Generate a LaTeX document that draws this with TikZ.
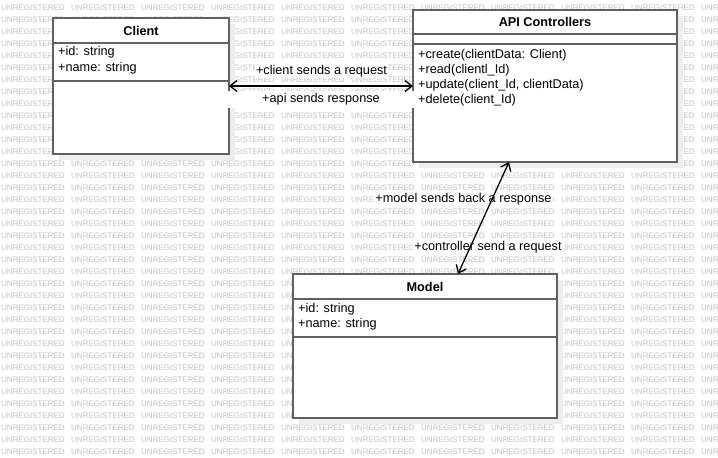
\documentclass[tikz,border=0pt]{standalone}
\usepackage{fontspec}
\setmainfont{Liberation Sans}
\usetikzlibrary{arrows.meta,positioning,shadows}

\begin{document}
\begin{tikzpicture}[x=1pt,y=-1pt,
  wm/.style={inner sep=0pt,anchor=west,text=black!24,font=\fontsize{8}{8}\selectfont},
  cls/.style={draw=black!62,line width=1.5pt,fill=white,inner sep=0pt,outer sep=0pt,
    drop shadow={shadow xshift=6pt,shadow yshift=-6pt,fill=black!7,opacity=1}},
  sep/.style={draw=black!62,line width=1.5pt},
  txt/.style={inner sep=0pt,anchor=mid west,font=\fontsize{12.7}{15}\selectfont},
  ttl/.style={inner sep=0pt,font=\fontsize{12.7}{15}\selectfont\bfseries},
  lbl/.style={fill=white,inner sep=1pt,font=\fontsize{12.7}{15}\selectfont},
  link/.style={{Straight Barb[length=7pt,width=11pt]}-{Straight Barb[length=7pt,width=11pt]},line width=1.3pt}]
  \useasboundingbox[fill=white] (0,0) rectangle (718,458);
  % watermark
  \foreach \r in {0,...,37}
    \foreach \c in {0,...,10}
      \node[wm] (wm-\r-\c) at (70*\c+1,8+12*\r) {UNREGISTERED};

  \node[cls,minimum width=176pt,minimum height=136pt] (client) at (141,86) {};
  \node[cls,minimum width=264pt,minimum height=152pt] (api) at (545,86) {};
  \node[cls,minimum width=264pt,minimum height=144pt] (model) at (425,346) {};

  \draw[sep] ([yshift=-25pt]client.north west) -- ([yshift=-25pt]client.north east);
  \draw[sep] ([yshift=-63pt]client.north west) -- ([yshift=-63pt]client.north east);
  \draw[sep] ([yshift=-24pt]api.north west) -- ([yshift=-24pt]api.north east);
  \draw[sep] ([yshift=-34pt]api.north west) -- ([yshift=-34pt]api.north east);
  \draw[sep] ([yshift=-25pt]model.north west) -- ([yshift=-25pt]model.north east);
  \draw[sep] ([yshift=-63pt]model.north west) -- ([yshift=-63pt]model.north east);

  \node[ttl] (c0) at (141,30.5) {Client};
  \node[txt] (c1) at (58,53) {+id: string};
  \node[txt] (c2) at (58,68.5) {+name: string};

  \node[ttl] (a0) at (545,22) {API Controllers};
  \node[txt] (a1) at (418,55.5) {+create(clientData: Client)};
  \node[txt] (a2) at (418,70.5) {+read(clientl\_Id)};
  \node[txt] (a3) at (418,85.5) {+update(client\_Id, clientData)};
  \node[txt] (a4) at (418,100.5) {+delete(client\_Id)};

  \node[ttl] (m0) at (425,287) {Model};
  \node[txt] (m1) at (298,310) {+id: string};
  \node[txt] (m2) at (298,324.5) {+name: string};

  % messages
  \node[lbl] (req) at (321.5,71) {+client sends a request};
  \node[lbl,minimum width=186pt,minimum height=17pt] (resp) at (321,99.5) {+api sends response};
  \node[lbl] (back) at (463.5,199) {+model sends back a response};
  \node[lbl] (send) at (488,247) {+controller send a request};

  \draw[link] (client.east) -- (api.west);
  \draw[link] ([xshift=-36pt]api.south) -- ([xshift=33pt]model.north);
\end{tikzpicture}
\end{document}
